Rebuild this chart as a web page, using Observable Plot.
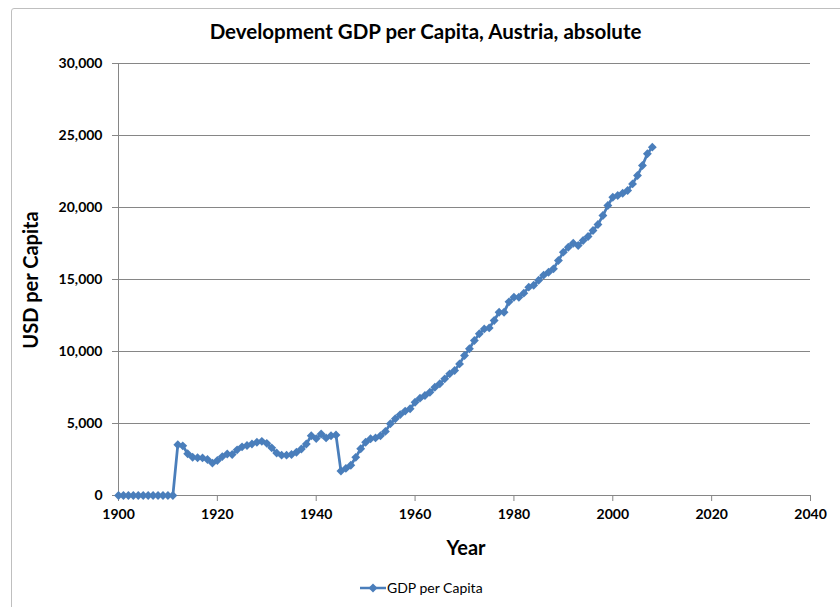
<!DOCTYPE html>
<html>
<head>
<meta charset="utf-8">
<script src="https://cdn.jsdelivr.net/npm/d3@7"></script>
<script src="https://cdn.jsdelivr.net/npm/@observablehq/plot@0.6"></script>
<style>
  html, body { margin: 0; padding: 0; background: #fff; }
  #wrap { position: relative; width: 840px; height: 607px; overflow: hidden; font-family: Lato, "Open Sans", sans-serif; }
  #frame { position: absolute; left: 11px; top: 8px; width: 840px; height: 620px; border: 1px solid #bfbfbf; border-radius: 3px; box-sizing: border-box; }
  #title { position: absolute; left: 0; width: 851px; top: 19px; text-align: center; font-weight: bold; font-size: 20.5px; color: #000; }
  #ylab { position: absolute; left: 30px; top: 280px; transform: translate(-50%, -50%) rotate(-90deg); font-weight: bold; font-size: 20px; white-space: nowrap; }
  #xlab { position: absolute; left: 466px; top: 547px; transform: translate(-50%, -50%); font-weight: bold; font-size: 20px; }
  #legend { position: absolute; left: 360px; top: 579px; display: flex; align-items: center; font-size: 14px; }
  #chart { position: absolute; left: 0; top: 0; }
</style>
</head>
<body>
<div id="wrap">
  <div id="frame"></div>
  <div id="chart"></div>
  <div id="title">Development GDP per Capita, Austria, absolute</div>
  <div id="ylab">USD per Capita</div>
  <div id="xlab">Year</div>
  <div id="legend"><svg width="26" height="12" style="margin-right:1px"><line x1="0" y1="6" x2="26" y2="6" stroke="#4a7ebb" stroke-width="2.5"/><path d="M13,1.5 L17.5,6 L13,10.5 L8.5,6 Z" fill="#4a7ebb"/></svg><span>GDP per Capita</span></div>
</div>
<script>
const seriesName = "GDP per Capita";
const firstYear = 1900;
const gdpPerCapita = [
  0, 0, 0, 0, 0, 0, 0, 0, 0, 0,
  0, 0, 3520, 3450, 2900, 2660, 2620, 2610, 2500, 2250,
  2430, 2700, 2880, 2850, 3170, 3380, 3470, 3580, 3700, 3760,
  3620, 3310, 2950, 2800, 2800, 2850, 3000, 3230, 3580, 4150,
  3950, 4270, 4000, 4150, 4200, 1700, 1880, 2100, 2650, 3250,
  3700, 3940, 4000, 4150, 4450, 4980, 5330, 5620, 5860, 6020,
  6480, 6760, 6940, 7170, 7520, 7760, 8100, 8450, 8680, 9140,
  9720, 10190, 10760, 11230, 11570, 11640, 12150, 12730, 12730, 13450,
  13770, 13770, 14050, 14470, 14600, 14950, 15300, 15500, 15740, 16320,
  16900, 17240, 17520, 17360, 17710, 17990, 18400, 18820, 19440, 20140,
  20710, 20830, 20990, 21180, 21640, 22220, 22920, 23730, 24190
];
const xTicks = [1900, 1920, 1940, 1960, 1980, 2000, 2020, 2040];
const yTicks = [0, 5000, 10000, 15000, 20000, 25000, 30000];

const data = gdpPerCapita.map((v, i) => ({year: firstYear + i, value: v}));
const color = "#4a7ebb";
const axisGray = "#868686";

const chart = Plot.plot({
  width: 840,
  height: 560,
  marginLeft: 118,
  marginRight: 30,
  marginTop: 63,
  marginBottom: 65,
  style: {fontFamily: "Lato, 'Open Sans', sans-serif", fontSize: "14px", fontWeight: "bold", color: "#000", background: "transparent"},
  x: {domain: [1900, 2040], ticks: xTicks, tickFormat: d => String(d), label: null},
  y: {domain: [0, 30000], ticks: yTicks, tickFormat: d3.format(","), label: null},
  marks: [
    Plot.gridY(yTicks.filter(d => d > 0), {stroke: axisGray, strokeOpacity: 1, strokeWidth: 1}),
    Plot.axisX({ticks: xTicks, tickFormat: d => String(d), tickSize: 6, tickPadding: 8, stroke: axisGray, label: null}),
    Plot.axisY({ticks: yTicks, tickFormat: d3.format(","), tickSize: 6, tickPadding: 10, stroke: axisGray, label: null}),
    Plot.ruleY([0], {stroke: axisGray, strokeWidth: 1}),
    Plot.ruleX([1900], {stroke: axisGray, strokeWidth: 1}),
    Plot.line(data, {x: "year", y: "value", stroke: color, strokeWidth: 2.75}),
    Plot.dot(data, {x: "year", y: "value", symbol: "diamond2", r: 4, fill: color, stroke: null})
  ]
});
document.getElementById("chart").appendChild(chart);
</script>
</body>
</html>
